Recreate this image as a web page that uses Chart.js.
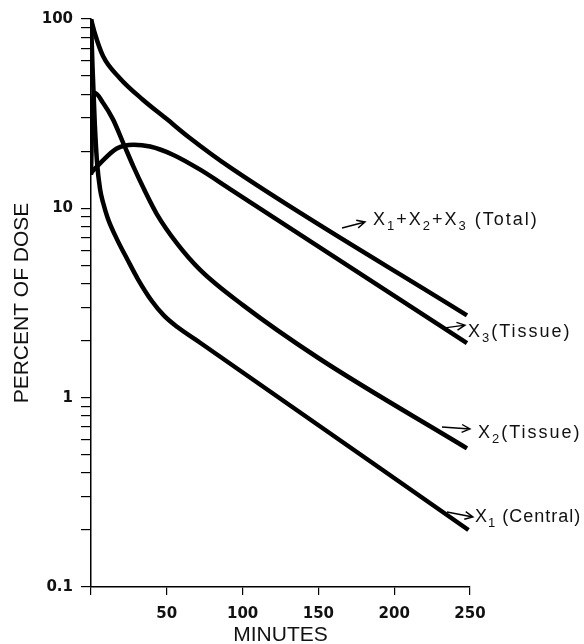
<!DOCTYPE html>
<html>
<head>
<meta charset="utf-8">
<script src="https://cdn.jsdelivr.net/npm/chart.js@4.4.0/dist/chart.umd.min.js"></script>
<style>
  html, body { margin: 0; padding: 0; background: #fff; }
</style>
</head>
<body>
<canvas id="dose" width="584" height="644"></canvas>
<script>
// minutes vs percent of dose
var tTotal = [0, 2.6, 8, 19, 34, 50, 65, 92, 248];
var total  = [100, 83.6, 63.5, 48.7, 37.6, 29.6, 23.6, 16.4, 2.72];

var tX3 = [0, 6, 17, 28, 39, 54, 72, 92, 248];
var x3  = [15.4, 17.3, 20.7, 21.7, 21.2, 19.2, 16.0, 12.6, 1.94];

var tX2 = [0, 1, 2.6, 8, 14.5, 21, 28, 35, 43.5, 56.7, 72, 100, 150, 248];
var x2  = [15, 33, 40.6, 36, 29.5, 22.4, 16.6, 12.6, 9.3, 6.53, 4.73, 3.09, 1.62, 0.54];

var tX1 = [0, 1, 2.5, 4, 6, 8, 11, 17, 24, 31, 40, 48, 57, 72, 249];
var x1  = [100, 56, 28, 17.4, 12.6, 10.7, 8.9, 6.9, 5.37, 4.22, 3.25, 2.72, 2.36, 1.95, 0.2];

var xTicks  = [50, 100, 150, 200, 250];
var yLabels = [0.1, 1, 10, 100];

// arrow labels: arrow starts at (t, v) near the curve
var notes = [
  { t: 165.6, v: 7.87, ax: 23, ay: -6, tx: 8, ty: 3, ls: 2, text: 'X_1+X_2+X_3 (Total)' },
  { t: 232.2, v: 2.33, ax: 22, ay: -3, tx: 3, ty: 12, ls: 2, text: 'X_3(Tissue)' },
  { t: 231.5, v: 0.70, ax: 28, ay: 2, tx: 8, ty: 9, ls: 2, text: 'X_2(Tissue)' },
  { t: 234.8, v: 0.249, ax: 26, ay: 5, tx: 2, ty: 5, ls: 1, text: 'X_1 (Central)' }
];

function pts(t, v) {
  return t.map(function (tt, i) { return { x: tt, y: v[i] }; });
}

function curve(t, v) {
  return {
    data: pts(t, v),
    borderColor: '#000',
    borderWidth: 4.5,
    pointRadius: 0,
    fill: false,
    cubicInterpolationMode: 'monotone'
  };
}

var arrowLabels = {
  id: 'arrowLabels',
  afterDatasetsDraw: function (chart) {
    var ctx = chart.ctx;
    var xs = chart.scales.x, ys = chart.scales.y;
    ctx.save();
    ctx.strokeStyle = '#000';
    ctx.fillStyle = '#111';
    ctx.lineWidth = 1.4;
    notes.forEach(function (n) {
      var x0 = xs.getPixelForValue(n.t), y0 = ys.getPixelForValue(n.v);
      var x1p = x0 + n.ax, y1p = y0 + n.ay;
      var ang = Math.atan2(n.ay, n.ax);
      ctx.beginPath();
      ctx.moveTo(x0, y0); ctx.lineTo(x1p, y1p);
      ctx.moveTo(x1p - 9 * Math.cos(ang - 0.45), y1p - 9 * Math.sin(ang - 0.45));
      ctx.lineTo(x1p, y1p);
      ctx.lineTo(x1p - 9 * Math.cos(ang + 0.45), y1p - 9 * Math.sin(ang + 0.45));
      ctx.stroke();
      // text with subscripts (_d)
      var x = x1p + n.tx, y = y1p + n.ty;
      ctx.textBaseline = 'alphabetic';
      ctx.textAlign = 'left';
      ctx.letterSpacing = n.ls + 'px';
      var s = n.text, i = 0;
      while (i < s.length) {
        if (s[i] === '_') {
          ctx.font = '13px "Liberation Sans"';
          ctx.fillText(s[i + 1], x, y + 5);
          x += ctx.measureText(s[i + 1]).width;
          i += 2;
        } else {
          var j = s.indexOf('_', i);
          if (j < 0) j = s.length;
          var chunk = s.slice(i, j);
          ctx.font = '18px "Liberation Sans"';
          ctx.fillText(chunk, x, y);
          x += ctx.measureText(chunk).width;
          i = j;
        }
      }
    });
    ctx.restore();
  }
};

var ctx = document.getElementById('dose').getContext('2d');
var chart = new Chart(ctx, {
  type: 'line',
  data: {
    datasets: [
      curve(tTotal, total),
      curve(tX3, x3),
      curve(tX2, x2),
      curve(tX1, x1)
    ]
  },
  options: {
    responsive: false,
    animation: false,
    layout: { padding: { left: 0, right: 114, top: 19, bottom: 0 } },
    plugins: {
      legend: { display: false },
      tooltip: { enabled: false }
    },
    scales: {
      x: {
        type: 'linear',
        min: 0,
        max: 250,
        afterFit: function (s) { s.height = 57; },
        ticks: {
          stepSize: 50,
          padding: 10,
          color: '#111',
          font: { family: 'DejaVu Sans', size: 15, weight: 'bold' },
          callback: function (v) { return xTicks.indexOf(v) >= 0 ? String(v) : ''; }
        },
        grid: { drawOnChartArea: false, drawTicks: true, tickLength: 8, color: '#000', lineWidth: 1.2 },
        border: { display: true, color: '#000', width: 1.5 },
        title: {
          display: true,
          text: 'MINUTES',
          color: '#111',
          padding: { top: 0, bottom: -2 },
          font: { family: 'Liberation Sans', size: 21, lineHeight: 1 }
        }
      },
      y: {
        type: 'logarithmic',
        min: 0.1,
        max: 100,
        afterFit: function (s) { s.width = 91; },
        // one tick for every 1..9 step of each decade
        afterBuildTicks: function (s) {
          var ticks = [];
          yLabels.forEach(function (d, k) {
            if (k === yLabels.length - 1) { ticks.push({ value: d }); return; }
            for (var m = 1; m <= 9; m++) ticks.push({ value: +(d * m).toPrecision(3) });
          });
          s.ticks = ticks;
        },
        ticks: {
          autoSkip: false,
          padding: 8,
          color: '#111',
          font: { family: 'DejaVu Sans', size: 15, weight: 'bold' },
          callback: function (v) {
            for (var k = 0; k < yLabels.length; k++) {
              if (Math.abs(v - yLabels[k]) < yLabels[k] * 1e-6) return String(yLabels[k]);
            }
            return '';
          }
        },
        grid: { drawOnChartArea: false, drawTicks: true, tickLength: 10, color: '#000', lineWidth: 1.2 },
        border: { display: true, color: '#000', width: 1.5 },
        title: {
          display: true,
          text: 'PERCENT OF DOSE',
          color: '#111',
          padding: { top: 12, bottom: 0 },
          font: { family: 'Liberation Sans', size: 21, lineHeight: 1 }
        }
      }
    }
  },
  plugins: [arrowLabels]
});
</script>
</body>
</html>
